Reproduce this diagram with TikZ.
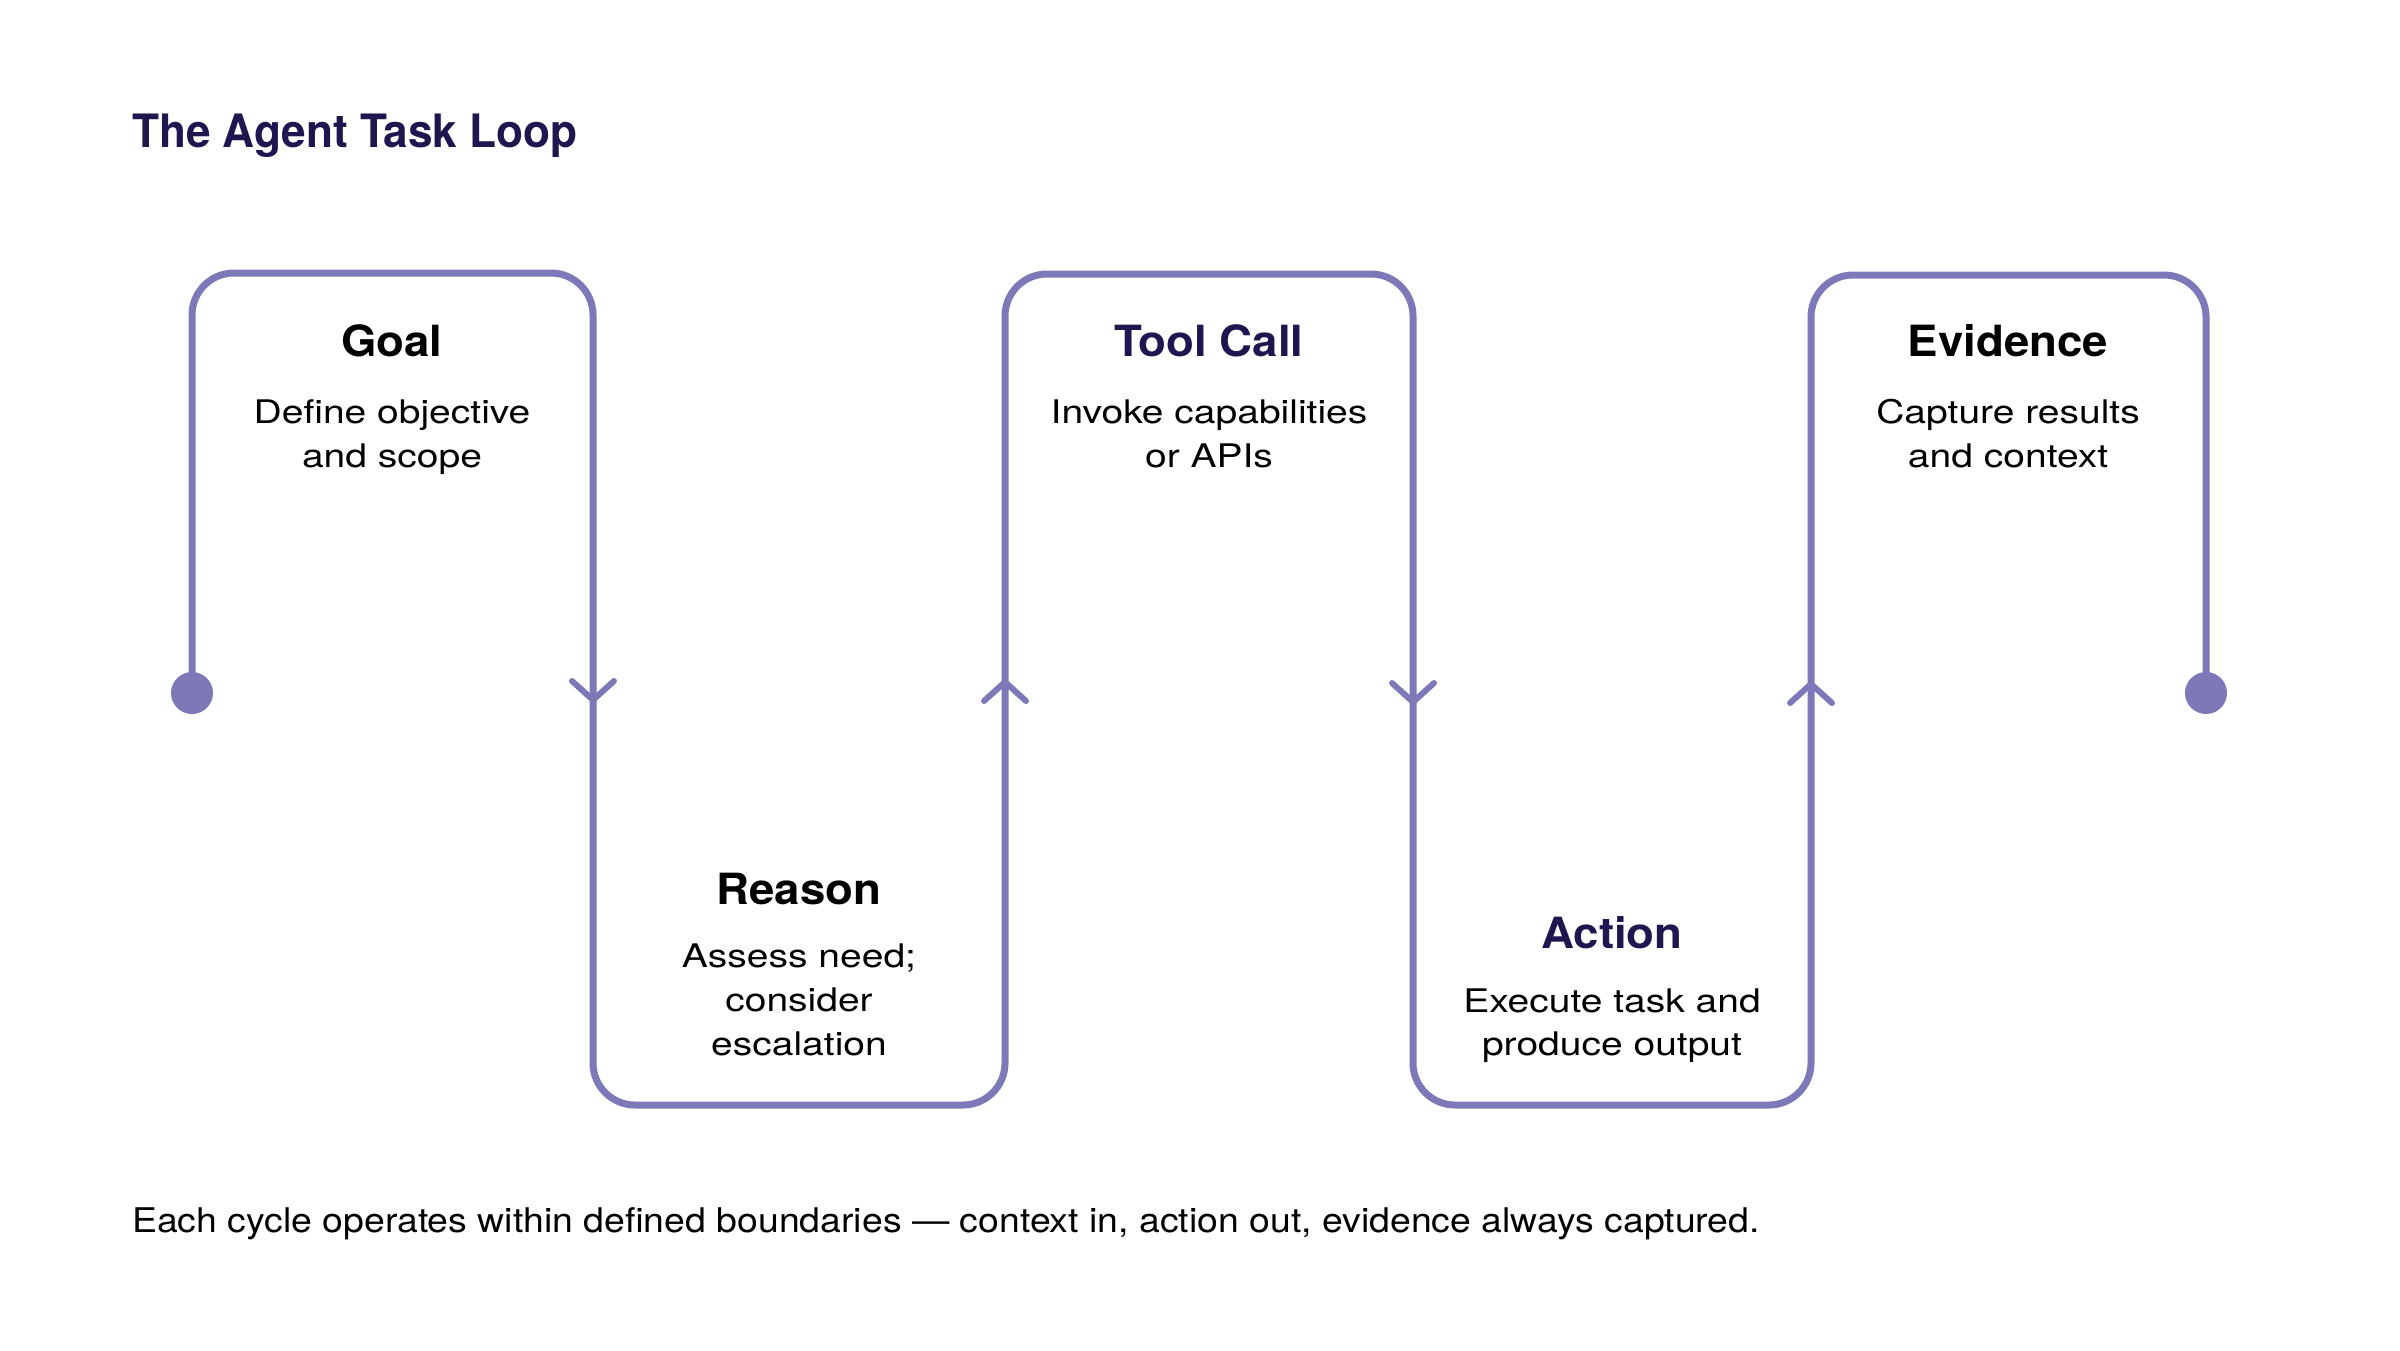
\documentclass[tikz,border=0pt]{standalone}
\usepackage{fontspec}
\setmainfont{TeX Gyre Heros}
\newfontfamily\titlefont[FakeStretch=0.96]{TeX Gyre Heros}
\newfontfamily\headfont[FakeStretch=1.06]{TeX Gyre Heros}
\newfontfamily\bodyfont[FakeStretch=1.2]{TeX Gyre Heros}
\newfontfamily\footfont[FakeStretch=1.1]{TeX Gyre Heros}
\definecolor{loopc}{HTML}{7D79B8}
\definecolor{navy}{HTML}{1F1650}
\begin{document}
\begin{tikzpicture}[x=1pt,y=-1pt,
  loopline/.style={draw=loopc,line width=7pt,line cap=round,line join=round},
  chev/.style={draw=loopc,line width=6pt,line cap=round,line join=round},
  head/.style={font=\headfont\fontsize{43}{50}\selectfont\bfseries,anchor=base,inner sep=0pt},
  body/.style={font=\bodyfont\fontsize{32.5}{44}\selectfont,anchor=base,inner sep=0pt},
]
\useasboundingbox[fill=white] (0,0) rectangle (2400,1350);

\node[anchor=base west,inner sep=0pt,text=navy,font=\titlefont\fontsize{46}{56}\selectfont\bfseries] (title) at (132,147) {The Agent Task Loop};

% path corners
\coordinate (s) at (192,693);
\coordinate (c1) at (192,273);
\coordinate (c2) at (593,273);
\coordinate (c3) at (593,1105);
\coordinate (c4) at (1005,1105);
\coordinate (c5) at (1005,274);
\coordinate (c6) at (1413,274);
\coordinate (c7) at (1413,1105);
\coordinate (c8) at (1811,1105);
\coordinate (c9) at (1811,275);
\coordinate (c10) at (2206,275);
\coordinate (e) at (2206,693);

\draw[loopline,rounded corners=42pt] (s) -- (c1) -- (c2) -- (c3) -- (c4) -- (c5) -- (c6) -- (c7) -- (c8) -- (c9) -- (c10) -- (e);
\fill[loopc] (s) circle[radius=21pt];
\fill[loopc] (e) circle[radius=21pt];

% arrow heads
\coordinate (a1) at (593,700);
\coordinate (a2) at (1005,682);
\coordinate (a3) at (1413,702);
\coordinate (a4) at (1811,684);
\draw[chev] ([shift={(-21,-19)}]a1) -- (a1) -- ([shift={(21,-19)}]a1);
\draw[chev] ([shift={(-21,19)}]a2) -- (a2) -- ([shift={(21,19)}]a2);
\draw[chev] ([shift={(-21,-19)}]a3) -- (a3) -- ([shift={(21,-19)}]a3);
\draw[chev] ([shift={(-21,19)}]a4) -- (a4) -- ([shift={(21,19)}]a4);

% texts
\node[head] (goal) at (392,356) {Goal};
\node[body] (goal1) at (392,423) {Define objective};
\node[body] (goal2) at (392,467) {and scope};

\node[head] (reason) at (799,904) {Reason};
\node[body] (reason1) at (799,967) {Assess need;};
\node[body] (reason2) at (799,1011) {consider};
\node[body] (reason3) at (799,1055) {escalation};

\node[head,text=navy] (tool) at (1209,356) {Tool Call};
\node[body] (tool1) at (1209,423) {Invoke capabilities};
\node[body] (tool2) at (1209,467) {or APIs};

\node[head,text=navy] (action) at (1612,948) {Action};
\node[body] (action1) at (1612,1012) {Execute task and};
\node[body] (action2) at (1612,1055) {produce output};

\node[head] (evid) at (2008,356) {Evidence};
\node[body] (evid1) at (2008,423) {Capture results};
\node[body] (evid2) at (2008,467) {and context};

\node[anchor=base west,inner sep=0pt,font=\footfont\fontsize{34}{40}\selectfont] (foot) at (132,1232) {Each cycle operates within defined boundaries — context in, action out, evidence always captured.};
\end{tikzpicture}
\end{document}
